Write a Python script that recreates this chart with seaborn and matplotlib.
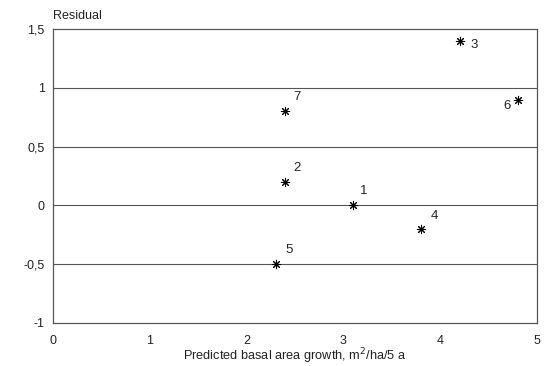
import matplotlib
matplotlib.use("Agg")
import matplotlib.pyplot as plt
import seaborn as sns
import pandas as pd

# Data
plot_ids = ["1", "2", "3", "4", "5", "6", "7"]
predicted = [3.1, 2.4, 4.2, 3.8, 2.3, 4.8, 2.4]
residual = [0.0, 0.2, 1.4, -0.2, -0.5, 0.9, 0.8]
x_ticks = [0, 1, 2, 3, 4, 5]
x_tick_labels = ["0", "1", "2", "3", "4", "5"]
y_ticks = [-1, -0.5, 0, 0.5, 1, 1.5]
y_tick_labels = ["-1", "-0,5", "0", "0,5", "1", "1,5"]

df = pd.DataFrame({"id": plot_ids, "x": predicted, "y": residual})

sns.set_style("white")
plt.rcParams["font.family"] = ["Liberation Sans", "DejaVu Sans"]

fig = plt.figure(figsize=(5.6, 3.66), dpi=100)
ax = fig.add_axes([0.0946, 0.1175, 0.959 - 0.0946, 0.9208 - 0.1175])

sns.scatterplot(data=df, x="x", y="y", ax=ax, marker=(8, 2, 0), s=36,
                color="black", edgecolor="black", linewidth=0.75, zorder=3)

# label offsets in points (dx, dy, ha)
offsets = {"1": (5, 6, "left"), "2": (6, 6, "left"), "3": (8, -3, "left"),
           "4": (7, 5, "left"), "5": (7, 6, "left"), "6": (-5, -5, "right"),
           "7": (6, 6, "left")}
for pid, xv, yv in zip(plot_ids, predicted, residual):
    dx, dy, ha = offsets[pid]
    ax.annotate(pid, (xv, yv), xytext=(dx, dy), textcoords="offset points",
                ha=ha, va="bottom" if dy > 0 else "center", fontsize=9.5, color="#222222")

ax.set_xlim(0, 5)
ax.set_ylim(-1, 1.5)
ax.set_xticks(x_ticks)
ax.set_xticklabels(x_tick_labels, fontsize=9, color="#222222")
ax.set_yticks(y_ticks)
ax.set_yticklabels(y_tick_labels, fontsize=9, color="#222222")
ax.tick_params(axis="x", direction="in", length=3, width=0.7, colors="#555555",
               labelcolor="#222222", pad=9)
ax.tick_params(axis="y", direction="out", length=2, width=0.7, colors="#555555",
               labelcolor="#222222", pad=4)

for yv in [-0.5, 0, 0.5, 1]:
    ax.axhline(yv, color="#555555", linewidth=0.8, zorder=1)

for sp in ax.spines.values():
    sp.set_visible(True)
    sp.set_color("#555555")
    sp.set_linewidth(0.9)

ax.set_xlabel("Predicted basal area growth, m$^2$/ha/5 a", fontsize=9.2, color="#222222", labelpad=-0.5)
ax.set_ylabel("")
ax.text(0.0, 1.025, "Residual", transform=ax.transAxes, fontsize=9,
        ha="left", va="bottom", color="#222222")

fig.savefig("out.png", dpi=100)
